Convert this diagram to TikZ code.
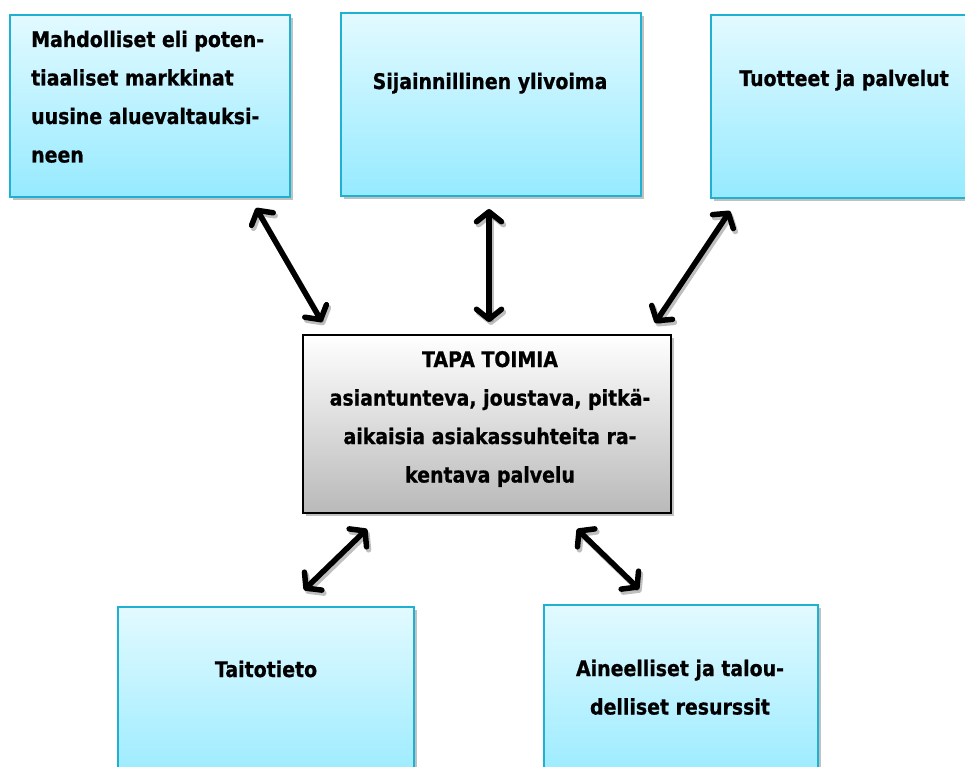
\documentclass[tikz,border=0pt]{standalone}
\usepackage{fontspec}
\setmainfont{DejaVu Sans}[FakeStretch=0.88,BoldFeatures={FakeBold=0.8}]
\usetikzlibrary{arrows.meta,shadows}
\definecolor{cyantop}{HTML}{E2FAFF}
\definecolor{cyanbot}{HTML}{96EAFF}
\definecolor{cyanline}{HTML}{1FB0D2}
\definecolor{graybot}{HTML}{B9B9B9}
\tikzset{
  cbox/.style={draw=cyanline, line width=2pt, top color=cyantop, bottom color=cyanbot,
    rectangle, inner sep=0pt,
    drop shadow={shadow xshift=3pt, shadow yshift=-3pt, opacity=0.35, fill=black!70}},
  mbox/.style={draw=black, line width=2pt, top color=white, bottom color=graybot,
    rectangle, inner sep=0pt,
    drop shadow={shadow xshift=3pt, shadow yshift=-3pt, opacity=0.35, fill=black!70}},
  lbl/.style={inner sep=0pt, font=\fontsize{21.5}{38.5}\selectfont\bfseries},
  dbl/.style={line width=5.5pt, line cap=round, black,
    {Straight Barb[length=10pt,width=25pt,round]}-{Straight Barb[length=10pt,width=25pt,round]}},
  dblshadow/.style={line width=5.5pt, line cap=round, black, opacity=0.25,
    {Straight Barb[length=10pt,width=25pt,round]}-{Straight Barb[length=10pt,width=25pt,round]}}
}
\begin{document}
\begin{tikzpicture}[x=1pt,y=-1pt]
\useasboundingbox (0,0) rectangle (965,767);
% boxes
\node[cbox, minimum width=280pt, minimum height=182pt] (b1) at (150,106) {};
\node[cbox, minimum width=300pt, minimum height=183pt] (b2) at (490.5,104.5) {};
\node[cbox, minimum width=268pt, minimum height=183pt] (b3) at (845,106.5) {};
\node[mbox, minimum width=368pt, minimum height=178pt] (bc) at (487,424) {};
\node[cbox, minimum width=296pt, minimum height=183pt] (b4) at (266,698.5) {};
\node[cbox, minimum width=274pt, minimum height=183pt] (b5) at (681,696.5) {};
% texts (base anchor of a multi-line node = baseline of its last line)
\node[lbl, align=left, anchor=base west] (t1) at (31,162.5)
  {Mahdolliset eli poten-\\tiaaliset markkinat\\uusine aluevaltauksi-\\neen};
\node[lbl, anchor=base] (t2) at (490,89) {Sijainnillinen ylivoima};
\node[lbl, anchor=base] (t3) at (844,86) {Tuotteet ja palvelut};
\node[lbl, align=center, anchor=base] (tc) at (490,482.5)
  {TAPA TOIMIA\\asiantunteva, joustava, pitkä-\\aikaisia asiakassuhteita ra-\\kentava palvelu};
\node[lbl, anchor=base] (t4) at (266,677) {Taitotieto};
\node[lbl, align=center, anchor=base] (t5) at (680,714.5) {Aineelliset ja talou-\\delliset resurssit};
% arrow end points
\coordinate (a1s) at (256,208); \coordinate (a1e) at (322,322);
\coordinate (a2s) at (489,209); \coordinate (a2e) at (489,322);
\coordinate (a3s) at (730,211); \coordinate (a3e) at (655,323);
\coordinate (a4s) at (367,529); \coordinate (a4e) at (304,590);
\coordinate (a5s) at (577,529); \coordinate (a5e) at (639,589);
\foreach \a in {a1,a2,a3,a4,a5}{
  \draw[dblshadow, transform canvas={xshift=2pt,yshift=-3pt}] (\a s) -- (\a e);
  \draw[dbl] (\a s) -- (\a e);
}
\end{tikzpicture}
\end{document}
